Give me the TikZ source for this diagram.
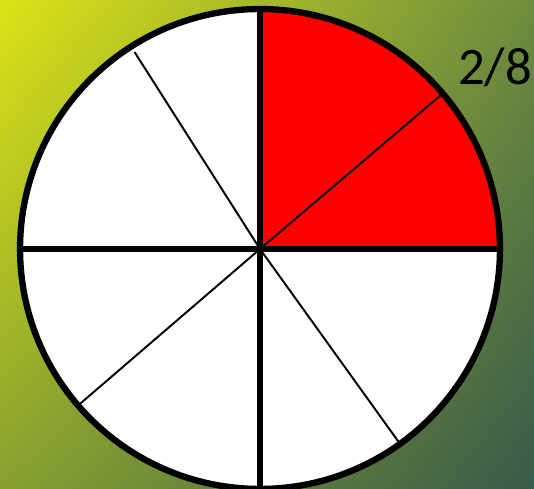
\documentclass[tikz,border=0pt]{standalone}
\usepackage{fontspec}
\setmainfont{Carlito}
\usetikzlibrary{shadings}
\definecolor{bgtl}{RGB}{221,227,23}
\definecolor{bgtr}{RGB}{110,140,62}
\definecolor{bgbl}{RGB}{135,160,48}
\definecolor{bgbr}{RGB}{56,90,74}
\definecolor{piered}{RGB}{255,0,0}
\begin{document}
\begin{tikzpicture}[x=0.02cm, y=0.02cm,
  rim/.style={draw=black, line width=3.6pt},
  bigcut/.style={draw=black, line width=3.4pt},
  smallcut/.style={draw=black, line width=1.1pt},
  fraclabel/.style={font=\fontsize{30}{36}\selectfont, inner sep=0pt}
]
\useasboundingbox (0,0) rectangle (534,489);

% Background
\shade[upper left=bgtl, upper right=bgtr, lower left=bgbl, lower right=bgbr]
  (0,0) rectangle (534,489);

% Pie
\coordinate (c) at (260,240);
\fill[white] (c) circle[radius=4.8cm];
\fill[piered] (c) -- ++(0:4.8cm) arc[start angle=0, end angle=90, radius=4.8cm] -- cycle;

% Thin cuts
\draw[smallcut] (c) -- ++(40.4:4.78cm);
\draw[smallcut] (c) -- ++(122.5:4.67cm);
\draw[smallcut] (c) -- ++(220.7:4.78cm);
\draw[smallcut] (c) -- ++(305.7:4.76cm);

% Thick cuts
\draw[bigcut] (c) ++(-4.8cm,0) -- ++(9.6cm,0);
\draw[bigcut] (c) ++(0,-4.8cm) -- ++(0,9.6cm);

% Rim
\draw[rim] (c) circle[radius=4.8cm];

% Label
\node[fraclabel] (frac) at (495,422) {2/8};
\end{tikzpicture}
\end{document}
